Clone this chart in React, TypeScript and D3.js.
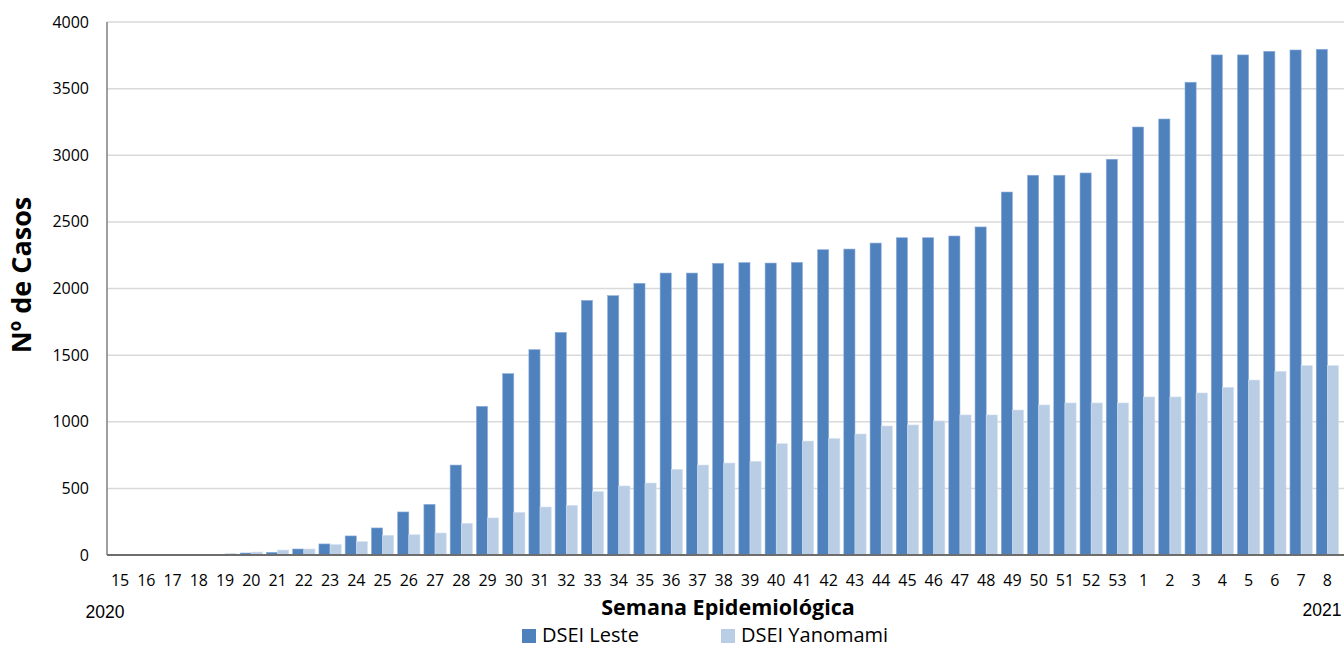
import React from "react";
import * as d3 from "d3";

const weeks = ["15","16","17","18","19","20","21","22","23","24","25","26","27","28","29","30","31","32","33","34","35","36","37","38","39","40","41","42","43","44","45","46","47","48","49","50","51","52","53","1","2","3","4","5","6","7","8"];
const leste = [0,0,0,1,5,15,20,45,83,143,203,323,380,675,1116,1361,1541,1671,1911,1946,2039,2116,2116,2189,2194,2191,2196,2291,2296,2341,2381,2381,2394,2462,2724,2850,2850,2867,2970,3212,3272,3548,3753,3753,3780,3790,3795];
const yanomami = [0,0,0,2,12,22,37,45,78,100,148,152,165,238,278,320,360,373,475,518,540,643,675,690,703,835,855,873,908,968,976,1006,1051,1051,1088,1126,1141,1141,1141,1186,1186,1216,1258,1313,1378,1421,1421];
const yTicks = [0,500,1000,1500,2000,2500,3000,3500,4000];
const seriesNames = ["DSEI Leste", "DSEI Yanomami"];
const colors = ["#4f81bd", "#b9cde5"];

const W = 1344, H = 647;
const left = 107, right = 1340.5, top = 22, bottom = 555;

export default function App() {
  const x = d3.scaleBand<string>().domain(weeks).range([left, right]).paddingInner(0.15).paddingOuter(0.075);
  const xs = d3.scaleBand<string>().domain(["a", "b"]).range([0, x.bandwidth()]);
  const y = d3.scaleLinear().domain([0, 4000]).range([bottom, top]);
  const font = "'Open Sans', Lato, sans-serif";
  const series = [leste, yanomami];
  return (
    <svg width={W} height={H} style={{ position: "absolute", left: 0, top: 0, background: "#fff" }}>
      {yTicks.map((t) => (
        <g key={t}>
          {t > 0 && <line x1={left} x2={W} y1={y(t)} y2={y(t)} stroke="#d9d9d9" strokeWidth={1.5} />}
          <text x={89} y={y(t) + 5.5} textAnchor="end" fontSize={16} fontFamily={font} fill="#000">{t}</text>
        </g>
      ))}
      {series.map((vals, si) =>
        weeks.map((w, i) => (
          <rect
            key={si + "-" + i}
            x={(x(w) as number) + (xs(si === 0 ? "a" : "b") as number)}
            y={y(vals[i])}
            width={xs.bandwidth()}
            height={bottom - y(vals[i])}
            fill={colors[si]}
            stroke={si === 0 ? "#8eaedb" : "#d3e0f0"}
            strokeWidth={vals[i] > 0 ? 0.6 : 0}
          />
        ))
      )}
      <line x1={left} x2={left} y1={top} y2={bottom} stroke="#7f7f7f" strokeWidth={1.5} />
      <line x1={left} x2={W} y1={bottom} y2={bottom} stroke="#6d6d6d" strokeWidth={2} />
      {weeks.map((w) => (
        <text key={"l" + w + (x(w) as number)} x={(x(w) as number) + x.bandwidth() / 2} y={585.5} textAnchor="middle" fontSize={16} fontFamily={font} fill="#000">{w}</text>
      ))}
      <text x={105} y={618} textAnchor="middle" fontSize={17.5} fontFamily="'Liberation Sans', Arial, sans-serif">2020</text>
      <text x={1322} y={616} textAnchor="middle" fontSize={17.5} fontFamily="'Liberation Sans', Arial, sans-serif">2021</text>
      <text x={728} y={615} textAnchor="middle" fontSize={21.5} fontWeight="bold" fontFamily={font}>Semana Epidemiológica</text>
      <text transform={`translate(31, 275) rotate(-90)`} textAnchor="middle" fontSize={27} fontWeight="bold" fontFamily={font}>Nº de Casos</text>
      {seriesNames.map((n, i) => (
        <g key={n} transform={`translate(${i === 0 ? 522 : 721}, 0)`}>
          <rect x={0} y={629} width={14} height={14} fill={colors[i]} />
          <text x={20} y={642} fontSize={20} fontFamily={font}>{n}</text>
        </g>
      ))}
    </svg>
  );
}
